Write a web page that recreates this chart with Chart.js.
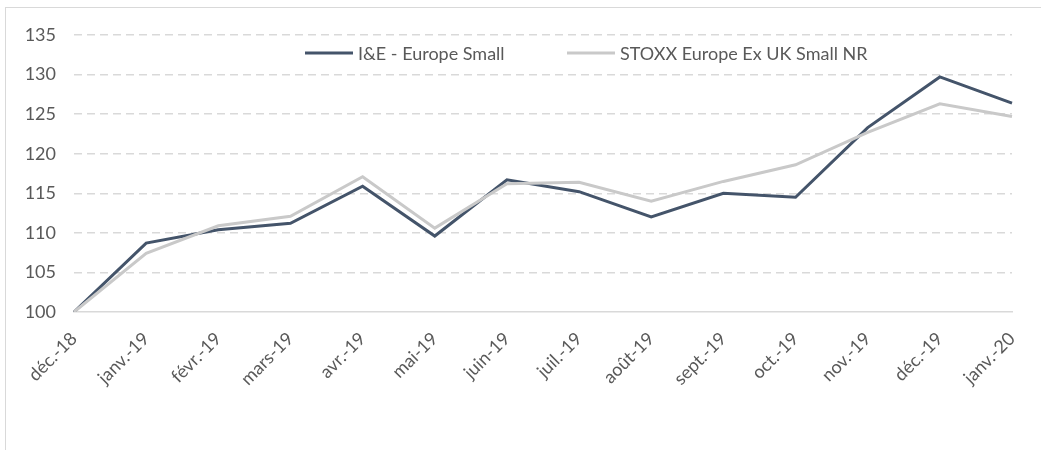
<!DOCTYPE html>
<html>
<head>
<meta charset="utf-8">
<script src="https://cdn.jsdelivr.net/npm/chart.js@4/dist/chart.umd.min.js"></script>
<style>
  html, body { margin: 0; padding: 0; background: #fff; overflow: hidden; }
  #frame { position: absolute; left: 5px; top: 7px; width: 1100px; height: 600px; border: 1px solid #d9d9d9; box-sizing: border-box; }
  #wrap { position: absolute; left: 0; top: 0; width: 1041px; height: 450px; }
</style>
</head>
<body>
<div id="frame"></div>
<div id="wrap"><canvas id="c" width="1041" height="450"></canvas></div>
<script>
const categories = ['déc.-18','janv.-19','févr.-19','mars-19','avr.-19','mai-19','juin-19','juil.-19','août-19','sept.-19','oct.-19','nov.-19','déc.-19','janv.-20'];
const seriesNames = ['I&E - Europe Small', 'STOXX Europe Ex UK Small NR'];
const ieEuropeSmall = [100, 108.7, 110.4, 111.2, 115.9, 109.6, 116.7, 115.2, 112.0, 115.0, 114.5, 123.3, 129.7, 126.4];
const stoxxExUkSmall = [100, 107.4, 110.9, 112.1, 117.1, 110.6, 116.2, 116.4, 114.0, 116.5, 118.6, 122.7, 126.3, 124.7];
const yTicks = [100, 105, 110, 115, 120, 125, 130, 135];

const FONT = 'Lato, "Open Sans", sans-serif';
const TEXT = '#595959';
const DARK = '#44546a';
const LIGHT = '#c9c9c9';

const legendPlugin = {
  id: 'customLegend',
  afterDraw(chart) {
    const ctx = chart.ctx;
    const items = [
      { name: seriesNames[0], color: DARK, x: 305 },
      { name: seriesNames[1], color: LIGHT, x: 567 }
    ];
    const y = 53;
    ctx.save();
    items.forEach(it => {
      ctx.strokeStyle = it.color;
      ctx.lineWidth = 3;
      ctx.beginPath();
      ctx.moveTo(it.x, y);
      ctx.lineTo(it.x + 48, y);
      ctx.stroke();
      ctx.fillStyle = TEXT;
      ctx.font = '18px ' + FONT;
      ctx.textBaseline = 'middle';
      ctx.textAlign = 'left';
      ctx.fillText(it.name, it.x + 53, y + 1);
    });
    ctx.restore();
  }
};

new Chart(document.getElementById('c'), {
  type: 'line',
  data: {
    labels: categories,
    datasets: [
      { label: seriesNames[0], data: ieEuropeSmall, borderColor: DARK, backgroundColor: DARK, borderWidth: 3, pointRadius: 0, tension: 0, order: 1 },
      { label: seriesNames[1], data: stoxxExUkSmall, borderColor: LIGHT, backgroundColor: LIGHT, borderWidth: 3, pointRadius: 0, tension: 0, order: 0 }
    ]
  },
  options: {
    responsive: false,
    animation: false,
    events: [],
    layout: { padding: { top: 35, right: 29, left: 0, bottom: 0 } },
    plugins: { legend: { display: false }, tooltip: { enabled: false } },
    scales: {
      x: {
        offset: false,
        grid: { display: true, drawOnChartArea: false, drawTicks: false, color: 'rgba(0,0,0,0)' },
        border: { display: true, color: '#d9d9d9', width: 1.5 },
        ticks: { color: TEXT, font: { family: FONT, size: 18 }, minRotation: 45, maxRotation: 45, autoSkip: false, padding: 16 },
        afterFit(scale) { scale.height = 138; scale.paddingRight = 0; scale.paddingLeft = 0; }
      },
      y: {
        min: 100, max: 135,
        afterBuildTicks(scale) { scale.ticks = yTicks.map(v => ({ value: v })); },
        grid: {
          drawTicks: false,
          color: ctx => (ctx.tick && ctx.tick.value === 100) ? 'rgba(0,0,0,0)' : '#d9d9d9',
          lineWidth: 1.5
        },
        border: { display: false, dash: [8, 5] },
        ticks: { color: TEXT, font: { family: FONT, size: 18 }, padding: 18 },
        afterFit(scale) { scale.width = 74; }
      }
    }
  },
  plugins: [legendPlugin]
});
</script>
</body>
</html>
